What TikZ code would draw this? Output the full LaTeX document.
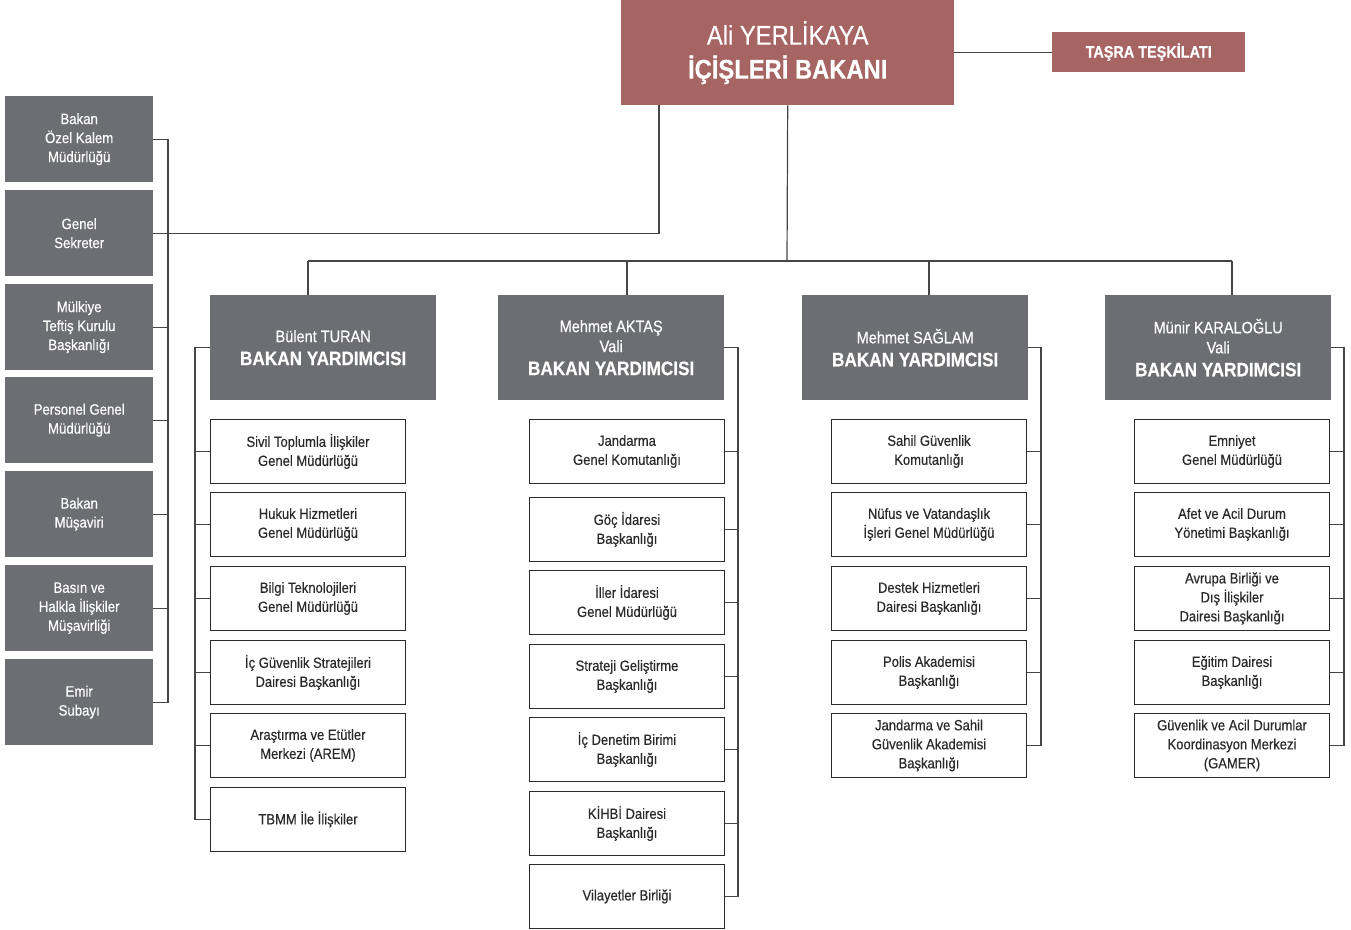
\documentclass[tikz,border=0pt]{standalone}
\usepackage{fontspec}
\setmainfont[FakeStretch=0.88, FakeBold=0.35]{Liberation Sans}
\usepackage{tikz}
\definecolor{bakanred}{HTML}{A66462}
\definecolor{unitgray}{HTML}{6D6E71}
\definecolor{linegray}{HTML}{454545}
\definecolor{textgray}{HTML}{2A2A2A}
\tikzset{
    redbox/.style={fill=bakanred, text=white, anchor=north west, inner sep=0pt, align=center},
    sidebox/.style={fill=unitgray, text=white, anchor=north west, inner sep=0pt, align=center,
        minimum width=148, minimum height=86, font=\fontsize{15}{19}\selectfont},
    depbox/.style={fill=unitgray, text=white, anchor=north west, inner sep=0pt, align=center,
        minimum width=226, minimum height=105, font=\fontsize{16.5}{20}\selectfont},
    unitbox/.style={draw=textgray, line width=1pt, fill=white, text=textgray, anchor=north west,
        inner sep=0pt, align=center, minimum width=195, minimum height=64, font=\fontsize{14.8}{19}\selectfont},
    conn/.style={draw=linegray, line width=1.2pt}
}
\newcommand{\depbold}{\fontsize{19.5}{25}\selectfont\bfseries}
\newcommand{\unitnode}[4]{
    \node[unitbox] (#1) at (#2,#3) {#4}
}

\begin{document}
\begin{tikzpicture}[x=1pt,y=-1pt]
            \useasboundingbox (0,0) rectangle (1351,929);

            \node[redbox, minimum width=333, minimum height=105, font=\fontsize{27}{34}\selectfont] (min) at (621,0) {Ali YERLİKAYA\\{\bfseries İÇİŞLERİ BAKANI}};
            \node[redbox, minimum width=193, minimum height=40, font=\fontsize{16.4}{20}\selectfont\bfseries] (tasra) at (1052,32) {TAŞRA TEŞKİLATI};

            \node[sidebox] (s1) at (5,96) {Bakan\\Özel Kalem\\Müdürlüğü};
            \node[sidebox] (s2) at (5,190) {Genel\\Sekreter};
            \node[sidebox] (s3) at (5,284) {Mülkiye\\Teftiş Kurulu\\Başkanlığı};
            \node[sidebox] (s4) at (5,377) {Personel Genel\\Müdürlüğü};
            \node[sidebox] (s5) at (5,471) {Bakan\\Müşaviri};
            \node[sidebox] (s6) at (5,565) {Basın ve\\Halkla İlişkiler\\Müşavirliği};
            \node[sidebox] (s7) at (5,659) {Emir\\Subayı};

            \node[depbox] (d1) at (210,295) {Bülent TURAN\\[3pt]{\depbold BAKAN YARDIMCISI}};
            \node[depbox] (d2) at (498,295) {Mehmet AKTAŞ\\Vali\\[3pt]{\depbold BAKAN YARDIMCISI}};
            \node[depbox] (d3) at (802,295) {Mehmet SAĞLAM\\[3pt]{\depbold BAKAN YARDIMCISI}};
            \node[depbox] (d4) at (1105,295) {Münir KARALOĞLU\\Vali\\[3pt]{\depbold BAKAN YARDIMCISI}};

            \unitnode{c11}{210}{419}{Sivil Toplumla İlişkiler\\Genel Müdürlüğü};
            \unitnode{c12}{210}{492}{Hukuk Hizmetleri\\Genel Müdürlüğü};
            \unitnode{c13}{210}{566}{Bilgi Teknolojileri\\Genel Müdürlüğü};
            \unitnode{c14}{210}{640}{İç Güvenlik Stratejileri\\Dairesi Başkanlığı};
            \unitnode{c15}{210}{713}{Araştırma ve Etütler\\Merkezi (AREM)};
            \unitnode{c16}{210}{787}{TBMM İle İlişkiler};

            \unitnode{c21}{529}{419}{Jandarma\\Genel Komutanlığı};
            \unitnode{c22}{529}{497}{Göç İdaresi\\Başkanlığı};
            \unitnode{c23}{529}{570}{İller İdaresi\\Genel Müdürlüğü};
            \unitnode{c24}{529}{644}{Strateji Geliştirme\\Başkanlığı};
            \unitnode{c25}{529}{717}{İç Denetim Birimi\\Başkanlığı};
            \unitnode{c26}{529}{791}{KİHBİ Dairesi\\Başkanlığı};
            \unitnode{c27}{529}{864}{Vilayetler Birliği};

            \unitnode{c31}{831}{419}{Sahil Güvenlik\\Komutanlığı};
            \unitnode{c32}{831}{492}{Nüfus ve Vatandaşlık\\İşleri Genel Müdürlüğü};
            \unitnode{c33}{831}{566}{Destek Hizmetleri\\Dairesi Başkanlığı};
            \unitnode{c34}{831}{640}{Polis Akademisi\\Başkanlığı};
            \unitnode{c35}{831}{713}{Jandarma ve Sahil\\Güvenlik Akademisi\\Başkanlığı};

            \unitnode{c41}{1134}{419}{Emniyet\\Genel Müdürlüğü};
            \unitnode{c42}{1134}{492}{Afet ve Acil Durum\\Yönetimi Başkanlığı};
            \unitnode{c43}{1134}{566}{Avrupa Birliği ve\\Dış İlişkiler\\Dairesi Başkanlığı};
            \unitnode{c44}{1134}{640}{Eğitim Dairesi\\Başkanlığı};
            \unitnode{c45}{1134}{713}{Güvenlik ve Acil Durumlar\\Koordinasyon Merkezi\\(GAMER)};

            \coordinate (gsup) at (659,105);
            \coordinate (lb) at (168,0);
            \coordinate (bus) at (787,261);
            \coordinate (b1) at (195,0);
            \coordinate (b2) at (738,0);
            \coordinate (b3) at (1041,0);
            \coordinate (b4) at (1344,0);

            \draw[conn] (min.east |- tasra.west) -- (tasra.west);
            \draw[conn] (gsup) |- (s2.east);
            \draw[conn] (s1.east) -- (s1.east -| lb) -- (s7.east -| lb) -- (s7.east);
            \foreach \i in {2,...,6} \draw[conn] (s\i.east) -- (s\i.east -| lb);

            \draw[conn] (min.south) -- (bus);
            \draw[conn] (c11.north |- bus) -- (c41.north |- bus);
            \foreach \i in {1,...,4} \draw[conn] (c\i1.north |- bus) -- (c\i1.north |- d\i.north);

            \draw[conn] (d1.west) -- (d1.west -| b1) |- (c16.west);
            \foreach \i in {1,...,5} \draw[conn] (c1\i.west) -- (c1\i.west -| b1);
            \draw[conn] (d2.east) -- (d2.east -| b2) |- (c27.east);
            \foreach \i in {1,...,6} \draw[conn] (c2\i.east) -- (c2\i.east -| b2);
            \draw[conn] (d3.east) -- (d3.east -| b3) |- (c35.east);
            \foreach \i in {1,...,4} \draw[conn] (c3\i.east) -- (c3\i.east -| b3);
            \draw[conn] (d4.east) -- (d4.east -| b4) |- (c45.east);
            \foreach \i in {1,...,4} \draw[conn] (c4\i.east) -- (c4\i.east -| b4);
        \end{tikzpicture}
\end{document}
